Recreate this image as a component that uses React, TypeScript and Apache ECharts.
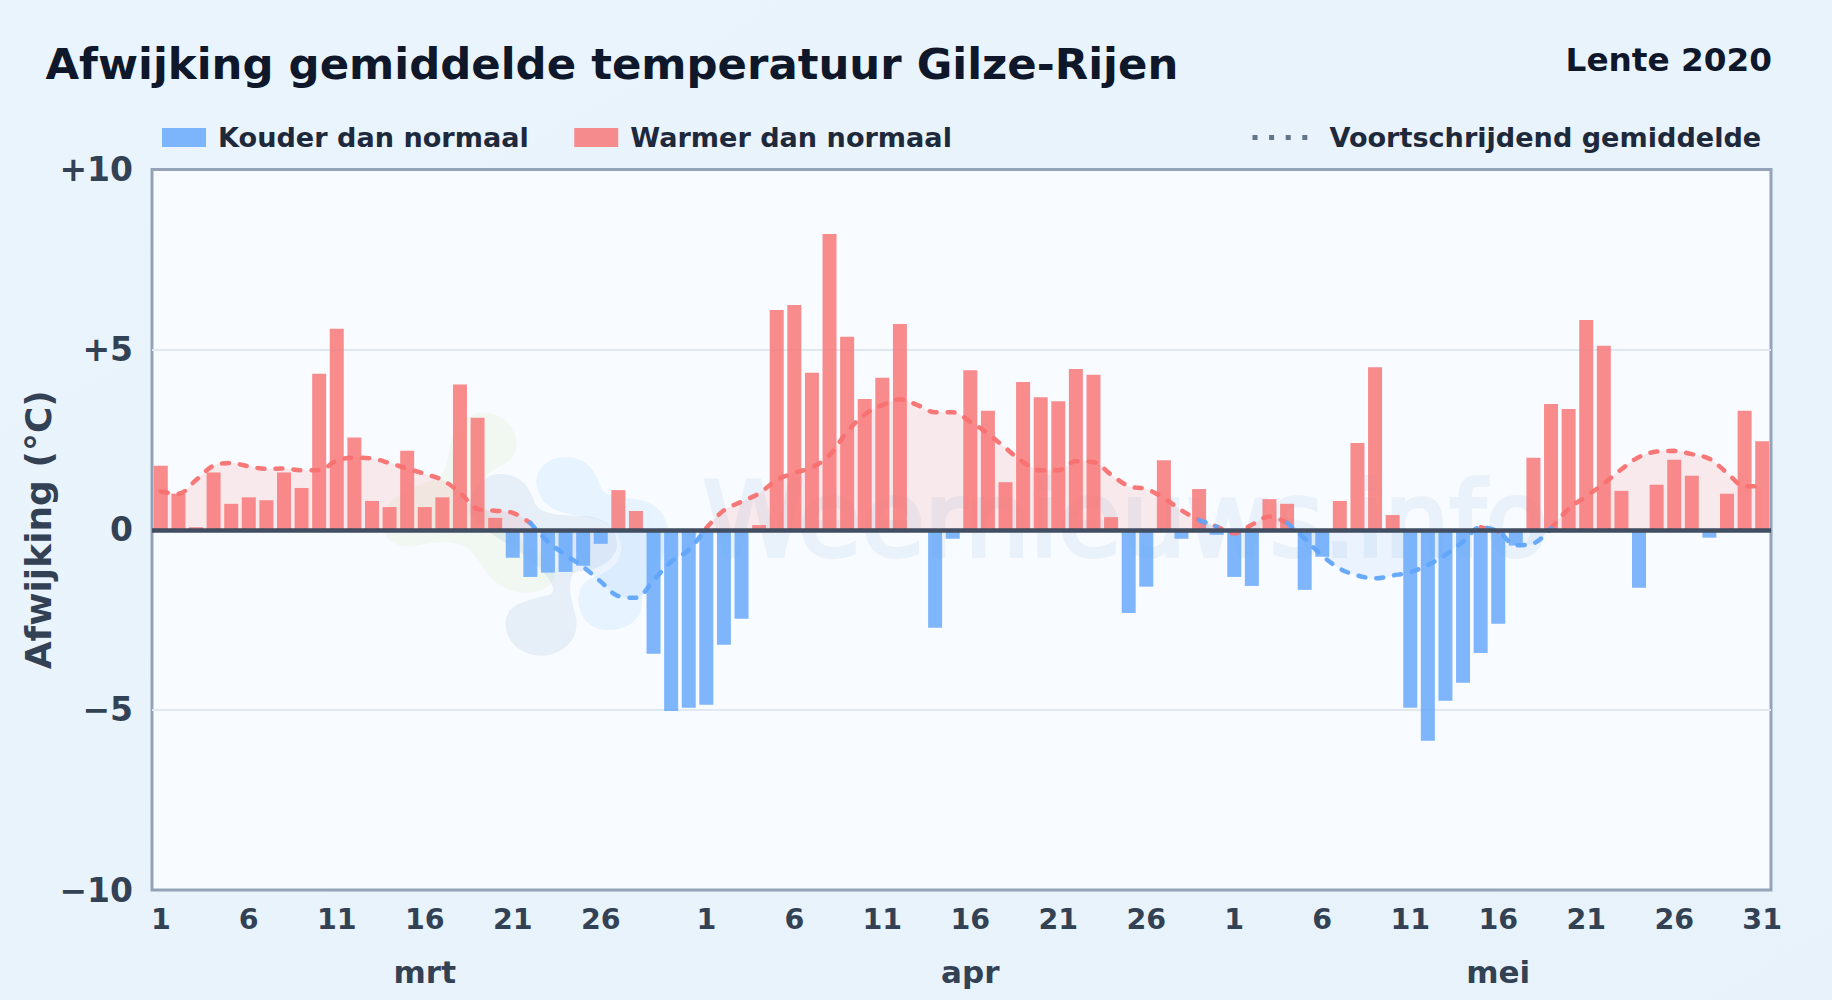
import React, { useEffect, useRef } from "react";
import * as echarts from "echarts";

const FONT = "DejaVu Sans";
const monthLengths = [31, 30, 31];
const monthNames = ["mrt", "apr", "mei"];
const dayTickIndices = [0, 5, 10, 15, 20, 25, 31, 36, 41, 46, 51, 56, 61, 66, 71, 76, 81, 86, 91];
const monthLabelIndices = [15, 46, 76];
const yTicks = { min: -10, max: 10, interval: 5 };

const dailyAnomaly = [
  1.78, 1.0, 0.07, 1.59, 0.72, 0.9, 0.82, 1.59, 1.16, 4.33, 5.58, 2.56, 0.8, 0.63, 2.19, 0.63,
  0.9, 4.03, 3.11, 0.33, -0.78, -1.31, -1.19, -1.17, -1.0, -0.39, 1.1, 0.52, -3.44, -5.03, -4.94,
  -4.86, -3.19, -2.47, 0.13, 6.1, 6.24, 4.36, 8.21, 5.36, 3.63, 4.22, 5.71, -0.05, -2.72, -0.25,
  4.43, 3.3, 1.32, 4.1, 3.68, 3.57, 4.46, 4.3, 0.35, -2.31, -1.58, 1.93, -0.25, 1.13, -0.14,
  -1.31, -1.56, 0.85, 0.72, -1.67, -0.75, 0.8, 2.41, 4.51, 0.41, -4.94, -5.86, -4.75, -4.25,
  -3.42, -2.61, -0.44, 2.0, 3.49, 3.35, 5.82, 5.11, 1.08, -1.61, 1.25, 1.94, 1.5, -0.22, 1.0,
  3.3, 2.46,
];

const trendValues = [
  1.06, 1.0, 1.38, 1.78, 1.85, 1.76, 1.69, 1.7, 1.65, 1.65, 1.92, 2.0, 1.98, 1.85, 1.7, 1.55,
  1.38, 1.03, 0.58, 0.53, 0.47, 0.19, -0.33, -0.7, -1.03, -1.44, -1.84, -1.89, -1.4, -0.89, -0.56,
  0.05, 0.54, 0.78, 1.01, 1.38, 1.58, 1.73, 2.07, 2.72, 3.2, 3.46, 3.62, 3.46, 3.26, 3.26,
  3.0, 2.67, 2.27, 1.88, 1.65, 1.65, 1.9, 1.88, 1.53, 1.21, 1.13, 0.88, 0.54, 0.27, 0.09,
  -0.1, 0.14, 0.37, 0.19, -0.25, -0.72, -1.08, -1.27, -1.35, -1.27, -1.18, -0.98, -0.7, -0.33,
  0.07, -0.05, -0.43, -0.38, 0.04, 0.58, 0.93, 1.28, 1.68, 2.02, 2.17, 2.19, 2.1, 1.97, 1.58,
  1.21, 1.21,
];

const warmTrendRanges = [[0, 21], [31, 59], [60, 64], [75, 76], [79, 91]];
const coldTrendRanges = [[21, 31], [59, 60], [64, 75], [76, 79]];

const legendNames = ["Kouder dan normaal", "Warmer dan normaal", "Voortschrijdend gemiddelde"];
const titleText = "Afwijking gemiddelde temperatuur Gilze-Rijen";
const seasonText = "Lente 2020";
const yAxisName = "Afwijking (°C)";
const watermarkText = "Weernieuws.info";

const dayLabels = monthLengths.flatMap((n) => Array.from({ length: n }, (_, i) => String(i + 1)));
const monthAxisLabels = dayLabels.map((_, i) => {
  const k = monthLabelIndices.indexOf(i);
  return k >= 0 ? monthNames[k] : "";
});
const inRanges = (i: number, ranges: number[][]) => ranges.some(([a, b]) => i >= a && i <= b);
const warmBars = dailyAnomaly.map((v) => (v > 0 ? v : null));
const coldBars = dailyAnomaly.map((v) => (v < 0 ? v : null));
const warmTrend = trendValues.map((v, i) => (inRanges(i, warmTrendRanges) ? v : null));
const coldTrend = trendValues.map((v, i) => (inRanges(i, coldTrendRanges) ? v : null));

const GREEN_BLOB =
  "M340 38C420 40 450 110 438 150C425 200 370 195 340 240C320 300 340 340 420 400C500 440 560 500 555 530C540 575 470 590 420 570C360 550 340 500 310 460C280 420 200 420 130 440C60 445 30 400 40 350C50 290 130 260 190 240C240 220 230 170 245 120C260 65 300 38 340 38Z";
const GREY_BLOB =
  "M390 222C450 222 480 260 495 310C515 350 590 345 660 350C720 360 750 400 740 450C720 500 660 515 620 515C590 530 600 590 615 640C640 720 570 770 510 768C440 765 400 710 408 660C415 610 480 600 540 585C570 570 530 520 470 470C420 430 340 400 300 340C290 290 330 222 390 222Z";
const BLUE_BLOB =
  "M590 172C650 172 675 210 695 265C715 305 800 285 850 315C905 350 905 430 875 480C850 520 815 560 815 630C800 680 740 695 700 690C640 680 615 620 630 575C640 530 700 530 730 500C770 460 760 400 700 365C650 345 580 350 540 320C500 290 490 240 510 210C530 180 560 172 590 172Z";

echarts.graphic.registerShape("wmGreen", echarts.graphic.extendPath(GREEN_BLOB, {}) as any);
echarts.graphic.registerShape("wmGrey", echarts.graphic.extendPath(GREY_BLOB, {}) as any);
echarts.graphic.registerShape("wmBlue", echarts.graphic.extendPath(BLUE_BLOB, {}) as any);

const RED = "#f87171";
const BLUE = "#60a5fa";

function trendSeries(data: (number | null)[], color: string, fill: string) {
  return {
    name: legendNames[2],
    type: "line",
    data,
    z: 4,
    smooth: 0.35,
    symbol: "none",
    connectNulls: false,
    lineStyle: { color, width: 4.5, type: [7, 11], cap: "round", opacity: 0.95 },
    itemStyle: { color },
    areaStyle: { color: fill, opacity: 1 },
  };
}

const option: any = {
  animation: false,
  backgroundColor: {
    type: "linear", x: 0, y: 0, x2: 1, y2: 1,
    colorStops: [{ offset: 0, color: "#eaf4fc" }, { offset: 1, color: "#e8f2fb" }],
  },
  textStyle: { fontFamily: FONT },
  title: [
    {
      text: titleText, left: 40.5, top: 37,
      textStyle: { fontFamily: FONT, fontWeight: "bold", fontSize: 43.4, color: "#0f172a" },
    },
    {
      text: seasonText, right: 55, top: 38.5,
      textStyle: { fontFamily: FONT, fontWeight: "bold", fontSize: 32.7, color: "#0f172a" },
    },
  ],
  legend: [
    {
      left: 157, top: 119, itemWidth: 44, itemHeight: 19, itemGap: 45.5, selectedMode: false,
      data: [
        { name: legendNames[0], icon: "rect" },
        { name: legendNames[1], icon: "rect" },
      ],
      textStyle: { fontFamily: FONT, fontWeight: "bold", fontSize: 27.1, color: "#1e293b", padding: [0, 0, 0, 7] },
    },
    {
      left: 1247.5, top: 119, itemWidth: 55, itemHeight: 5, selectedMode: false,
      data: [
        {
          name: legendNames[2],
          icon: "path://M0,0h5v5h-5zM16.6,0h5v5h-5zM33.2,0h5v5h-5zM49.8,0h5v5h-5z",
          itemStyle: { color: "#64748b" },
        },
      ],
      textStyle: { fontFamily: FONT, fontWeight: "bold", fontSize: 27.1, color: "#1e293b", padding: [0, 0, 0, 17] },
    },
  ],
  grid: {
    left: 152, top: 169.5, width: 1619, height: 720.5, show: true, outerBoundsMode: "none",
    backgroundColor: "#f8fbff", borderColor: "#94a3b8", borderWidth: 3, containLabel: false,
  },
  xAxis: [
    {
      type: "category", data: dayLabels, boundaryGap: true,
      axisLine: { show: false, onZero: false }, axisTick: { show: false }, splitLine: { show: false },
      axisLabel: {
        interval: (i: number) => dayTickIndices.includes(i),
        margin: 15, fontFamily: FONT, fontWeight: "bold", fontSize: 28.5, color: "#334155",
      },
    },
    {
      type: "category", data: monthAxisLabels, boundaryGap: true, position: "bottom",
      axisLine: { show: false, onZero: false }, axisTick: { show: false }, splitLine: { show: false },
      axisLabel: {
        interval: (i: number) => monthLabelIndices.includes(i),
        margin: 66, fontFamily: FONT, fontWeight: "bold", fontSize: 31, color: "#334155",
      },
    },
  ],
  yAxis: {
    type: "value", min: yTicks.min, max: yTicks.max, interval: yTicks.interval,
    name: yAxisName, nameLocation: "middle", nameRotate: 90, nameGap: 95.5, nameMoveOverlap: false,
    nameTextStyle: { fontFamily: FONT, fontWeight: "bold", fontSize: 36, color: "#334155" },
    axisLine: { show: false }, axisTick: { show: false },
    splitLine: { show: true, showMinLine: false, showMaxLine: false, lineStyle: { color: "#e2e8f0", width: 2 } },
    axisLabel: {
      margin: 19, fontFamily: FONT, fontWeight: "bold", fontSize: 33, color: "#334155",
      formatter: (v: number) => (v > 0 ? `+${v}` : v < 0 ? `\u2212${Math.abs(v)}` : "0"),
    },
  },
  series: [
    {
      name: legendNames[0], type: "bar", data: coldBars, barWidth: 14, barGap: "-100%", z: 2,
      itemStyle: { color: "rgba(96,165,250,0.8)" },
    },
    {
      name: legendNames[1], type: "bar", data: warmBars, barWidth: 14, barGap: "-100%", z: 2,
      itemStyle: { color: "rgba(248,113,113,0.8)" },
      markLine: {
        silent: true, symbol: "none", z: 5, animation: false,
        label: { show: false },
        lineStyle: { color: "#414d60", width: 4.5, type: "solid" },
        data: [{ yAxis: 0 }],
      },
    },
    trendSeries(warmTrend, RED, "rgba(248,113,113,0.13)"),
    trendSeries(coldTrend, BLUE, "rgba(96,165,250,0.09)"),
  ],
  graphic: [
    {
      type: "group", x: 370, y: 400, scaleX: 1 / 3, scaleY: 1 / 3, z: 1, silent: true,
      children: [
        { type: "wmGreen", z: 1, style: { fill: "rgba(190,225,150,0.13)" } },
        { type: "wmGrey", z: 1, style: { fill: "rgba(140,175,215,0.17)" } },
        { type: "wmBlue", z: 1, style: { fill: "rgba(125,195,250,0.14)" } },
      ],
    },
    {
      type: "text", x: 703, y: 572, z: 1, silent: true,
      style: {
        text: watermarkText, fontFamily: FONT, fontSize: 102.5, fontWeight: "normal",
        fill: "#e9f1fa", stroke: "#e9f1fa", lineWidth: 4, verticalAlign: "bottom",
      },
    },
  ],
};

export default function App() {
  const ref = useRef<HTMLDivElement>(null);
  useEffect(() => {
    document.body.style.margin = "0";
    const chart = echarts.init(ref.current!, undefined, { renderer: "svg" });
    chart.setOption(option);
    return () => chart.dispose();
  }, []);
  return <div ref={ref} style={{ width: 1832, height: 1000 }} />;
}
